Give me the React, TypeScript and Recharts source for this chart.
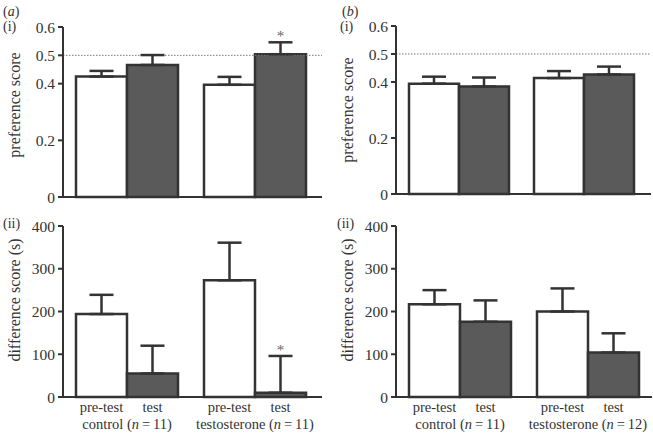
import React from "react";
import { Bar, BarChart, ErrorBar, LabelList, ReferenceLine, XAxis, YAxis } from "recharts";

const groups = ["control", "testosterone"];
const nA = [11, 11];
const nB = [11, 12];

// (a)(i) preference score
const prefPreA = [0.425, 0.396];
const prefPreErrA = [0.02, 0.028];
const prefTestA = [0.466, 0.504];
const prefTestErrA = [0.035, 0.042];
// (a)(ii) difference score (s)
const diffPreA = [194, 273];
const diffPreErrA = [45, 88];
const diffTestA = [55, 10];
const diffTestErrA = [65, 86];
// (b)(i) preference score
const prefPreB = [0.394, 0.414];
const prefPreErrB = [0.025, 0.025];
const prefTestB = [0.384, 0.427];
const prefTestErrB = [0.032, 0.028];
// (b)(ii) difference score (s)
const diffPreB = [217, 200];
const diffPreErrB = [33, 54];
const diffTestB = [176, 104];
const diffTestErrB = [50, 45];

const starsA = [false, true];
const starsB = [false, false];

const prefTicks = [0, 0.2, 0.4, 0.5, 0.6];
const diffTicks = [0, 100, 200, 300, 400];

const FONT = "'Liberation Serif', 'DejaVu Serif', serif";
const INK = "#333";
const GREY = "#5a5a5a";

type Row = {
  group: string;
  n: number;
  pre: number;
  test: number;
  preErr: [number, number];
  testErr: [number, number];
  star: boolean;
};

function makeRows(pre: number[], preErr: number[], test: number[], testErr: number[], ns: number[], stars: boolean[]): Row[] {
  return groups.map((g, i) => ({
    group: g,
    n: ns[i],
    pre: pre[i],
    test: test[i],
    preErr: [0, preErr[i]],
    testErr: [0, testErr[i]],
    star: stars[i],
  }));
}

type PanelProps = {
  rows: Row[];
  left: number;
  top: number;
  width: number;
  height: number;
  marginTop: number;
  marginRight: number;
  xAxisHeight: number;
  padRight: number;
  ticks: number[];
  yLabel: string;
  yLabelY: number;
  barSize: number;
  chance?: boolean;
  categories?: boolean;
};

function Panel(p: PanelProps) {
  const plotBottom = p.height - p.xAxisHeight;
  const max = p.ticks[p.ticks.length - 1];

  const groupTick = (t: any) => {
    const r = p.rows[t.index];
    if (!r) return null;
    const x = t.x;
    return (
      <g fontFamily={FONT} fontSize={14.5} fill={INK}>
        <text x={x - p.barSize / 2} y={plotBottom + 15} textAnchor="middle">pre-test</text>
        <text x={x + p.barSize / 2} y={plotBottom + 15} textAnchor="middle">test</text>
        <text x={x} y={plotBottom + 32} textAnchor="middle">
          {r.group} (<tspan fontStyle="italic">n</tspan>
          {"\u2009=\u2009" + r.n})
        </text>
      </g>
    );
  };

  const star = (lp: any) => {
    const r = p.rows[lp.index];
    if (!r || !r.star) return null;
    const vb = lp.viewBox ?? lp;
    const pxPerUnit = vb.height / r.test;
    const errTop = vb.y - r.testErr[1] * pxPerUnit;
    return (
      <text x={vb.x + vb.width / 2} y={errTop - 1} textAnchor="middle" fontFamily={FONT} fontSize={15} fill="#666">
        *
      </text>
    );
  };

  return (
    <div style={{ position: "absolute", left: p.left, top: p.top }}>
      <BarChart
        width={p.width}
        height={p.height}
        data={p.rows}
        barGap={0}
        barSize={p.barSize}
        margin={{ top: p.marginTop, right: p.marginRight, bottom: 0, left: 0 }}
      >
        <XAxis
          dataKey="group"
          height={p.xAxisHeight}
          axisLine={{ stroke: INK, strokeWidth: 2 }}
          tickLine={false}
          tick={p.categories ? groupTick : false}
          padding={{ left: 0, right: p.padRight }}
          interval={0}
        />
        <YAxis
          width={63}
          domain={[0, max]}
          ticks={p.ticks}
          interval={0}
          axisLine={{ stroke: INK, strokeWidth: 2 }}
          tickLine={{ stroke: INK, strokeWidth: 2 }}
          tickSize={5}
          tickMargin={3}
          tick={{ fill: INK, fontSize: 15.5, fontFamily: FONT }}
          label={{
            content: () => (
              <text
                x={14}
                y={p.yLabelY}
                transform={`rotate(-90, 14, ${p.yLabelY})`}
                textAnchor="middle"
                dominantBaseline="central"
                fontFamily={FONT}
                fontSize={16}
                fill={INK}
              >
                {p.yLabel}
              </text>
            ),
          }}
        />
        {p.chance && (
          <ReferenceLine y={0.5} stroke="#777" strokeWidth={1} strokeDasharray="1.5 1.5" ifOverflow="extendDomain" />
        )}
        <Bar dataKey="pre" fill="#ffffff" stroke={INK} strokeWidth={2.5} isAnimationActive={false}>
          <ErrorBar dataKey="preErr" direction="y" width={12} stroke={INK} strokeWidth={2.5} isAnimationActive={false} />
        </Bar>
        <Bar dataKey="test" fill={GREY} stroke={INK} strokeWidth={2.5} isAnimationActive={false}>
          <ErrorBar dataKey="testErr" direction="y" width={12} stroke={INK} strokeWidth={2.5} isAnimationActive={false} />
          <LabelList dataKey="star" content={star} />
        </Bar>
      </BarChart>
    </div>
  );
}

const tag: React.CSSProperties = {
  position: "absolute",
  fontFamily: FONT,
  fontSize: 14,
  color: INK,
  lineHeight: "14px",
  whiteSpace: "nowrap",
};

export default function App() {
  const aPref = makeRows(prefPreA, prefPreErrA, prefTestA, prefTestErrA, nA, starsA);
  const aDiff = makeRows(diffPreA, diffPreErrA, diffTestA, diffTestErrA, nA, starsA);
  const bPref = makeRows(prefPreB, prefPreErrB, prefTestB, prefTestErrB, nB, starsB);
  const bDiff = makeRows(diffPreB, diffPreErrB, diffTestB, diffTestErrB, nB, starsB);

  return (
    <div style={{ position: "absolute", left: 0, top: 0, width: 653, height: 434, background: "#fff", overflow: "hidden" }}>
      <Panel
        rows={aPref}
        left={0}
        top={0}
        width={330}
        height={205}
        marginTop={27}
        marginRight={8}
        xAxisHeight={8}
        padRight={3}
        ticks={prefTicks}
        yLabel="preference score"
        yLabelY={105}
        barSize={51}
        chance
      />
      <Panel
        rows={aDiff}
        left={0}
        top={210}
        width={330}
        height={224}
        marginTop={16}
        marginRight={8}
        xAxisHeight={37}
        padRight={3}
        ticks={diffTicks}
        yLabel="difference score (s)"
        yLabelY={90}
        barSize={51}
        categories
      />
      <Panel
        rows={bPref}
        left={333}
        top={0}
        width={320}
        height={202}
        marginTop={26}
        marginRight={2}
        xAxisHeight={8}
        padRight={5}
        ticks={prefTicks}
        yLabel="preference score"
        yLabelY={110}
        barSize={50}
        chance
      />
      <Panel
        rows={bDiff}
        left={333}
        top={210}
        width={320}
        height={224}
        marginTop={16}
        marginRight={1}
        xAxisHeight={37}
        padRight={0}
        ticks={diffTicks}
        yLabel="difference score (s)"
        yLabelY={90}
        barSize={51}
        categories
      />
      <div style={{ ...tag, left: 3, top: 5 }}>
        (<i>a</i>)
      </div>
      <div style={{ ...tag, left: 3, top: 20 }}>(i)</div>
      <div style={{ ...tag, left: 3, top: 217 }}>(ii)</div>
      <div style={{ ...tag, left: 342, top: 5 }}>
        (<i>b</i>)
      </div>
      <div style={{ ...tag, left: 340, top: 20 }}>(i)</div>
      <div style={{ ...tag, left: 337, top: 217 }}>(ii)</div>
    </div>
  );
}
